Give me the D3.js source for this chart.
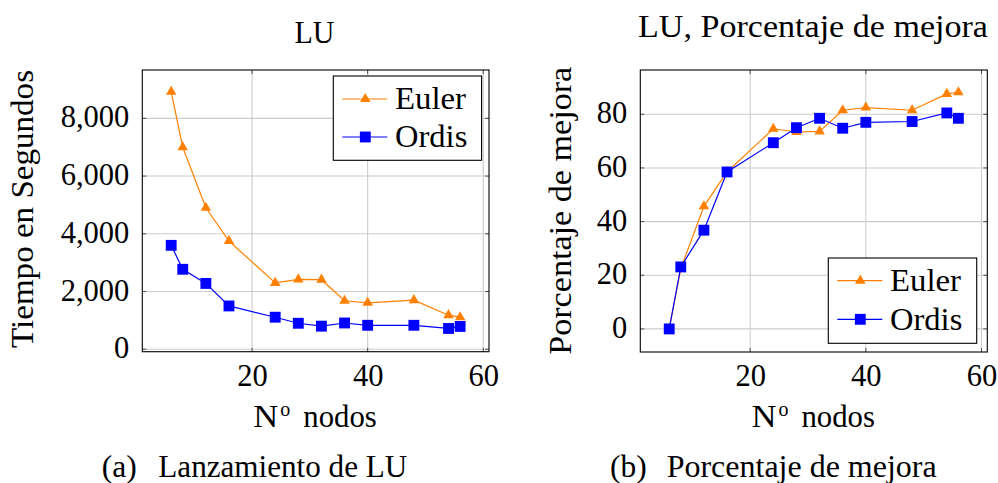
<!DOCTYPE html>
<html><head><meta charset="utf-8">
<script src="https://cdn.jsdelivr.net/npm/d3@7"></script>
<style>
body{margin:0;background:#fff}
svg text{font-family:"Liberation Serif","Times New Roman",serif;fill:#000}
</style></head><body><svg id="c" width="998" height="483" font-family="Liberation Serif"></svg>
<script>
const nodes = [6, 8, 12, 16, 24, 28, 32, 36, 40, 48, 54, 56];
const eulerTime = [8920, 7000, 4900, 3750, 2300, 2420, 2410, 1680, 1610, 1700, 1180, 1110];
const ordisTime = [3600, 2770, 2280, 1500, 1110, 900, 800, 910, 830, 830, 720, 790];
const eulerPct = [0, 22.5, 45.7, 58.5, 74.6, 73.4, 73.6, 81.5, 82.5, 81.5, 87.6, 88.2];
const ordisPct = [0, 23.1, 36.8, 58.5, 69.4, 75.0, 78.5, 74.8, 77.0, 77.3, 80.5, 78.5];
const xTicks = [20, 40, 60];
const timeTicks = [0, 2000, 4000, 6000, 8000];
const pctTicks = [0, 20, 40, 60, 80];
const seriesNames = ["Euler", "Ordis"];

const COLORS = ["#ff8000", "#0000ff"];
const SYMBOLS = [d3.symbolTriangle, d3.symbolSquare];
const SYMSIZE = [48, 118];
const FONT = "Liberation Serif";
const FS = 31;

const svg = d3.select("#c");

function txt(parent, s, x, y, size, opts = {}) {
  const t = parent.append("text").attr("x", x).attr("y", y)
    .attr("font-size", size).style("font-family", FONT).style("fill", "#000").text(s);
  if (opts.anchor) t.attr("text-anchor", opts.anchor);
  if (opts.width) t.attr("textLength", opts.width).attr("lengthAdjust", "spacingAndGlyphs");
  return t;
}

function panel(o) {
  const g = svg.append("g");
  const x = d3.scaleLinear().domain(o.xDomain).range([o.left, o.right]);
  const y = d3.scaleLinear().domain(o.yDomain).range([o.bottom, o.top]);
  // grid
  g.append("g").selectAll("line").data(xTicks).join("line")
    .attr("x1", d => x(d)).attr("x2", d => x(d)).attr("y1", o.top).attr("y2", o.bottom)
    .attr("stroke", "#cccccc").attr("stroke-width", 1.1);
  g.append("g").selectAll("line").data(o.yTicks).join("line")
    .attr("y1", d => y(d)).attr("y2", d => y(d)).attr("x1", o.left).attr("x2", o.right)
    .attr("stroke", "#cccccc").attr("stroke-width", 1.1);
  // inner tick marks
  const tl = 4;
  const tg = g.append("g").attr("stroke", "#505050").attr("stroke-width", 1);
  xTicks.forEach(d => {
    tg.append("line").attr("x1", x(d)).attr("x2", x(d)).attr("y1", o.bottom).attr("y2", o.bottom - tl);
    tg.append("line").attr("x1", x(d)).attr("x2", x(d)).attr("y1", o.top).attr("y2", o.top + tl);
  });
  o.yTicks.forEach(d => {
    tg.append("line").attr("y1", y(d)).attr("y2", y(d)).attr("x1", o.left).attr("x2", o.left + tl);
    tg.append("line").attr("y1", y(d)).attr("y2", y(d)).attr("x1", o.right).attr("x2", o.right - tl);
  });
  // axes tick labels
  const xa = g.append("g").attr("transform", `translate(0,${o.bottom})`)
    .call(d3.axisBottom(x).tickValues(xTicks).tickSize(0).tickPadding(0).tickFormat(d3.format("d")));
  xa.attr("font-family", FONT).attr("font-size", 30.5);
  xa.select(".domain").remove();
  xa.selectAll("text").attr("y", 34).attr("dy", null).attr("font-size", 30.5).style("font-family", FONT);
  const ya = g.append("g").attr("transform", `translate(${o.left},0)`)
    .call(d3.axisLeft(y).tickValues(o.yTicks).tickSize(0).tickPadding(13).tickFormat(o.fmt));
  ya.attr("font-family", FONT).attr("font-size", 30.5);
  ya.select(".domain").remove();
  ya.selectAll("text").attr("font-size", 30.5).attr("dy", "0.28em").style("font-family", FONT);
  // frame
  g.append("rect").attr("x", o.left).attr("y", o.top).attr("width", o.right - o.left).attr("height", o.bottom - o.top)
    .attr("fill", "none").attr("stroke", "#000").attr("stroke-width", 1.1);
  // series
  o.series.forEach((vals, i) => {
    const data = nodes.map((n, k) => [n, vals[k]]);
    g.append("path").datum(data)
      .attr("d", d3.line().x(d => x(d[0])).y(d => y(d[1])))
      .attr("fill", "none").attr("stroke", COLORS[i]).attr("stroke-width", 1.2);
    g.append("g").selectAll("path").data(data).join("path")
      .attr("transform", d => `translate(${x(d[0])},${y(d[1])})`)
      .attr("d", d3.symbol(SYMBOLS[i], SYMSIZE[i])).attr("fill", COLORS[i]);
  });
  // legend
  const lg = g.append("g");
  lg.append("rect").attr("x", o.leg.x).attr("y", o.leg.y).attr("width", o.leg.w).attr("height", o.leg.h)
    .attr("fill", "#fff").attr("stroke", "#000").attr("stroke-width", 1.1);
  seriesNames.forEach((name, i) => {
    const cy = o.leg.y + o.leg.r0 + i * o.leg.dy;
    const lx = o.leg.x + 9;
    lg.append("line").attr("x1", lx).attr("x2", lx + 45).attr("y1", cy).attr("y2", cy)
      .attr("stroke", COLORS[i]).attr("stroke-width", 1.2);
    lg.append("path").attr("transform", `translate(${lx + 23},${cy})`)
      .attr("d", d3.symbol(SYMBOLS[i], SYMSIZE[i])).attr("fill", COLORS[i]);
    txt(lg, name, o.leg.x + 61.7, cy + 10.3, FS, {width: o.leg.tw[i]});
  });
  // title
  txt(g, o.title, o.titleX, o.titleY, FS, {anchor: "middle", width: o.titleW});
  // y label
  txt(g, o.ylabel, 0, 0, FS, {anchor: "middle", width: o.ylabW})
    .attr("transform", `translate(${o.ylabX},${o.ylabY}) rotate(-90)`);
  // x label: N + superscript o + nodos
  const cx = (o.left + o.right) / 2;
  txt(g, "N", cx - 62.3, 427, FS, {width: 25});
  txt(g, "o", cx - 35.3, 416, 21, {width: 10});
  txt(g, "nodos", cx - 12.3, 427, FS, {width: 73.4});
  // caption
  txt(g, o.capA, o.capX, 477, FS, {width: o.capAW});
  txt(g, o.capB, o.capX2, 477, FS, {width: o.capBW});
}

panel({
  left: 142.3, right: 489, top: 70, bottom: 351.7,
  xDomain: [1, 61], yDomain: [-85, 9675], yTicks: timeTicks, fmt: d3.format(","),
  series: [eulerTime, ordisTime],
  leg: {x: 333.3, y: 76, w: 148.3, h: 84.3, r0: 23, dy: 38, tw: [71, 72.3]},
  title: "LU", titleX: 314.5, titleY: 43.3, titleW: 40,
  ylabel: "Tiempo en Segundos", ylabX: 33.3, ylabY: 209, ylabW: 278,
  capA: "(a)", capX: 101.7, capAW: 35, capB: "Lanzamiento de LU", capX2: 158.3, capBW: 249
});
panel({
  left: 640.3, right: 987.3, top: 70, bottom: 352,
  xDomain: [1, 61], yDomain: [-8.6, 96.5], yTicks: pctTicks, fmt: d3.format("d"),
  series: [eulerPct, ordisPct],
  leg: {x: 828.3, y: 258, w: 148.4, h: 85.3, r0: 22.7, dy: 38.6, tw: [71, 72.3]},
  title: "LU, Porcentaje de mejora", titleX: 813, titleY: 36.7, titleW: 350,
  ylabel: "Porcentaje de mejora", ylabX: 570.7, ylabY: 210.8, ylabW: 288,
  capA: "(b)", capX: 610, capAW: 36.7, capB: "Porcentaje de mejora", capX2: 666.7, capBW: 270
});
</script></body></html>
